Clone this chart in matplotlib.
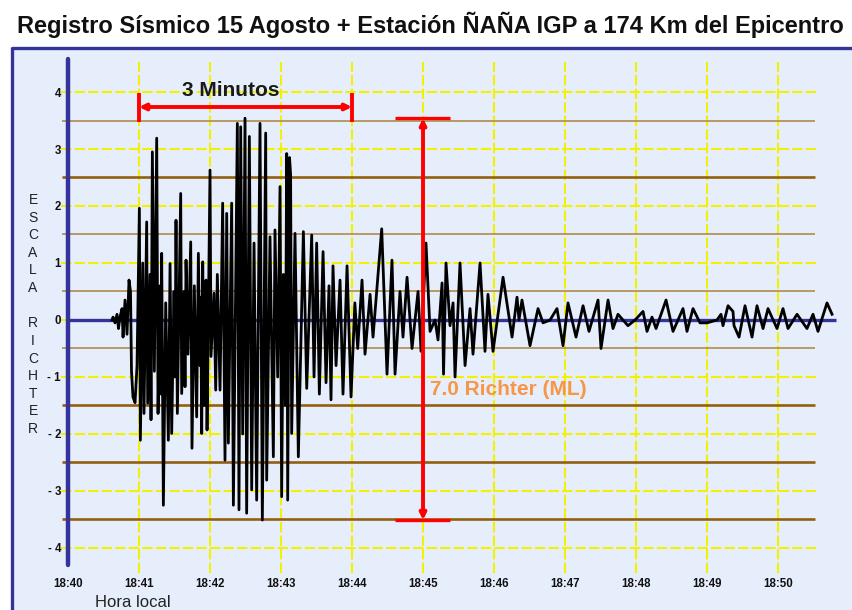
import matplotlib.pyplot as plt

plt.rcParams['font.family'] = ['Liberation Sans', 'DejaVu Sans']

# minutos después de las 18:40 y amplitud del registro (escala Richter)
t_min = [0.620, 0.634, 0.662, 0.690, 0.711, 0.732, 0.761, 0.775, 0.803, 0.831,
         0.859, 0.880, 0.894, 0.915, 0.944, 0.972,
         1.005, 1.019, 1.052, 1.070, 1.108, 1.122, 1.155, 1.169, 1.188, 1.216,
         1.249, 1.268, 1.296, 1.310, 1.319, 1.343, 1.376, 1.413, 1.437, 1.460,
         1.493, 1.507, 1.521, 1.540, 1.587, 1.601, 1.634, 1.648, 1.662, 1.690,
         1.728, 1.746, 1.779, 1.812, 1.836, 1.859, 1.869, 1.883, 1.897, 1.920,
         1.944, 1.958, 2.000, 2.014, 2.056, 2.080, 2.103, 2.141, 2.178, 2.211,
         2.235, 2.258, 2.305, 2.329, 2.385, 2.408, 2.432, 2.460, 2.493, 2.516,
         2.554, 2.587, 2.620, 2.657, 2.704, 2.737, 2.784, 2.798, 2.845, 2.892,
         2.915, 2.953, 2.986, 3.009, 3.033, 3.061, 3.080, 3.094, 3.120, 3.135,
         3.150, 3.197, 3.244, 3.315, 3.362, 3.432, 3.465, 3.502, 3.540,
         3.592, 3.634, 3.676, 3.704, 3.732, 3.775, 3.831, 3.873, 3.930, 3.986,
         4.040, 4.080, 4.141, 4.183, 4.254, 4.296, 4.418, 4.493, 4.563, 4.606,
         4.676, 4.718, 4.775, 4.845, 4.930, 4.972, 5.042, 5.099, 5.169, 5.211,
         5.268, 5.289, 5.324, 5.380, 5.423, 5.451, 5.521, 5.592, 5.662, 5.704,
         5.803, 5.873, 5.915, 5.986, 6.127, 6.254, 6.324, 6.352, 6.394, 6.507,
         6.620, 6.690, 6.789, 6.887, 6.972, 7.042, 7.155, 7.254, 7.338, 7.465,
         7.507, 7.606, 7.676, 7.746, 7.887, 7.986, 8.099, 8.155, 8.225, 8.282,
         8.423, 8.521, 8.662, 8.718, 8.803, 8.901, 9.000, 9.141, 9.197, 9.225,
         9.296, 9.366, 9.380, 9.451, 9.535, 9.634, 9.704, 9.789, 9.859, 9.986,
         10.070, 10.141, 10.268, 10.408, 10.493, 10.563, 10.690, 10.761]
amp = [0.0, 0.05, -0.05, 0.1, -0.15, 0.05, 0.2, -0.3, 0.35, -0.25,
       0.7, 0.5, -0.9, -1.35, -1.45, -0.8,
       1.96, -2.11, 1.0, -1.64, 1.72, -1.46, 0.8, -1.75, 2.95, -0.9,
       3.19, -1.64, 0.6, -1.3, 1.17, -3.25, 0.3, -2.11, 0.99, -1.99,
       0.5, -1.0, 1.75, -1.64, 2.22, -1.29, 0.5, -1.17, 1.05, -0.6,
       1.37, -2.25, 0.6, -1.70, 1.17, -0.8, 0.4, -1.99, 1.02, -1.5,
       0.70, -1.93, 2.63, -0.64, 0.47, -1.23, 0.8, -1.23, 2.05, -2.46,
       1.87, -2.16, 2.05, -3.25, 3.45, -3.33, 3.39, -2.0, 3.54, -3.39,
       3.22, -2.98, 1.35, -3.16, 3.45, -3.51, 3.28, -2.81, 1.46, -2.40,
       1.58, -1.0, 2.34, -3.10, 0.8, -1.5, 2.92, -3.16, 2.85, 2.55,
       -1.99, 1.52, -2.40, 1.55, -1.2, 1.49, -1.0, 1.35, -1.3,
       1.2, -1.1, 0.6, -1.4, 0.95, -0.8, 0.7, -1.3, 0.95, -1.35,
       0.3, -0.5, 0.7, -0.6, 0.45, -0.3, 1.6, -0.95, 1.05, -0.95,
       0.5, -0.3, 0.75, -0.5, 0.5, -0.55, 1.35, -0.2, 0.0, -0.35,
       0.65, -0.95, 1.0, -0.1, 0.3, -1.0, 1.0, -0.8, 0.2, -0.6,
       1.0, -0.55, 0.45, -0.55, 0.75, -0.3, 0.4, 0.0, 0.35, -0.45,
       0.2, -0.05, 0.0, 0.2, -0.45, 0.3, -0.3, 0.25, -0.2, 0.35,
       -0.5, 0.35, -0.15, 0.1, -0.1, 0.0, 0.15, -0.2, 0.05, -0.15,
       0.35, -0.2, 0.2, -0.2, 0.2, -0.05, -0.05, 0.0, 0.1, -0.1,
       0.25, 0.15, -0.1, -0.3, 0.25, -0.3, 0.25, -0.15, 0.2, -0.15,
       0.2, -0.15, 0.1, -0.15, 0.1, -0.2, 0.3, 0.1]

hours = ['18:40', '18:41', '18:42', '18:43', '18:44', '18:45',
         '18:46', '18:47', '18:48', '18:49', '18:50']
minute_ticks = list(range(11))
richter_ticks = [4, 3, 2, 1, 0, -1, -2, -3, -4]
richter_labels = ['4', '3', '2', '1', '0', '- 1', '- 2', '- 3', '- 4']
half_lines = [3.5, 2.5, 1.5, 0.5, -0.5, -1.5, -2.5, -3.5]
heavy_half = [2.5, -1.5, -2.5, -3.5]
ylabel_letters = 'ESCALA RICHTER'

navy = '#333399'
yellow = '#F2F200'
brown = '#B08A4C'
brown_dark = '#946010'
red = '#FF0000'

fig = plt.figure(figsize=(8.52, 6.1), dpi=100)
fig.patch.set_facecolor('white')
ax = fig.add_axes([12 / 852, 0, 840 / 852, 562 / 610])
ax.set_facecolor('#E6EEFC')
ax.set_xlim(-0.789, 11.042)
ax.set_ylim(-5.088, 4.772)

# marco exterior
ax.plot([0, 0, 1], [0, 1, 1], transform=ax.transAxes, color=navy, lw=2.4,
        clip_on=False, zorder=6)

# ejes
ax.spines['right'].set_visible(False)
ax.spines['top'].set_visible(False)
ax.spines['left'].set_position(('data', 0))
ax.spines['left'].set_bounds(-4.3, 4.58)
ax.spines['left'].set_color(navy)
ax.spines['left'].set_linewidth(3.2)
ax.spines['left'].set_capstyle('round')
ax.spines['left'].set_zorder(4)
ax.spines['bottom'].set_position(('data', -4.45))
ax.spines['bottom'].set_color('none')
ax.set_xticks(minute_ticks, hours)
ax.set_yticks(richter_ticks, richter_labels)
ax.tick_params(axis='both', length=0, labelsize=8.3, colors='#111111')
ax.tick_params(axis='y', pad=5)
ax.tick_params(axis='x', pad=3)
for lbl in ax.get_xticklabels() + ax.get_yticklabels():
    lbl.set_fontweight('bold')

# rejilla
ax.hlines(richter_ticks, -0.1, 10.55, colors=yellow, linestyles=(0, (5, 1.5)),
          lw=1.5, zorder=1)
ax.vlines(minute_ticks[1:], -4.44, 4.53, colors=yellow,
          linestyles=(0, (5, 1.5)), lw=1.5, zorder=1)
for y in half_lines:
    heavy = y in heavy_half
    ax.hlines(y, -0.085, 10.52, colors=brown_dark if heavy else brown,
              lw=1.9 if heavy else 1.2, zorder=1)
ax.hlines(0, 0, 10.82, colors=navy, lw=2.4, zorder=2)

# registro sísmico
ax.plot(t_min, amp, color='black', lw=2.0, zorder=3)

# 3 minutos
ax.annotate('', xy=(1.0, 3.737), xytext=(4.0, 3.737),
            arrowprops=dict(arrowstyle='<|-|>', color=red, lw=2.8,
                            mutation_scale=9, shrinkA=0, shrinkB=0), zorder=5)
ax.vlines([1.0, 4.0], 3.47, 3.98, colors=red, lw=2.8, zorder=5)
ax.text(2.296, 4.035, '3 Minutos', ha='center', va='center', fontsize=15,
        fontweight='bold', color='#1A1A1A', zorder=6)

# amplitud
ax.annotate('', xy=(5.0, 3.54), xytext=(5.0, -3.51),
            arrowprops=dict(arrowstyle='<|-|>', color=red, lw=2.8,
                            mutation_scale=9, shrinkA=0, shrinkB=0), zorder=5)
ax.hlines([3.54, -3.51], 4.606, 5.380, colors=red, lw=2.4, zorder=5)
ax.text(5.099, -1.228, '7.0 Richter (ML)', ha='left', va='center', fontsize=15,
        fontweight='bold', color='#F79646', zorder=6)

# etiqueta vertical
for i, ch in enumerate(ylabel_letters):
    if ch != ' ':
        ax.text(-0.493, 2.105 - i * 0.309, ch, ha='center', va='center',
                fontsize=10, color='#222222')

ax.text(0.915, -4.965, 'Hora local', ha='center', va='center', fontsize=12,
        color='#222222')

fig.text(0.505, 0.959,
         'Registro Sísmico 15 Agosto + Estación ÑAÑA IGP a 174 Km del Epicentro',
         ha='center', va='center', fontsize=17, fontweight='bold', color='#111111')

fig.savefig('out.png', dpi=100, facecolor='white')
